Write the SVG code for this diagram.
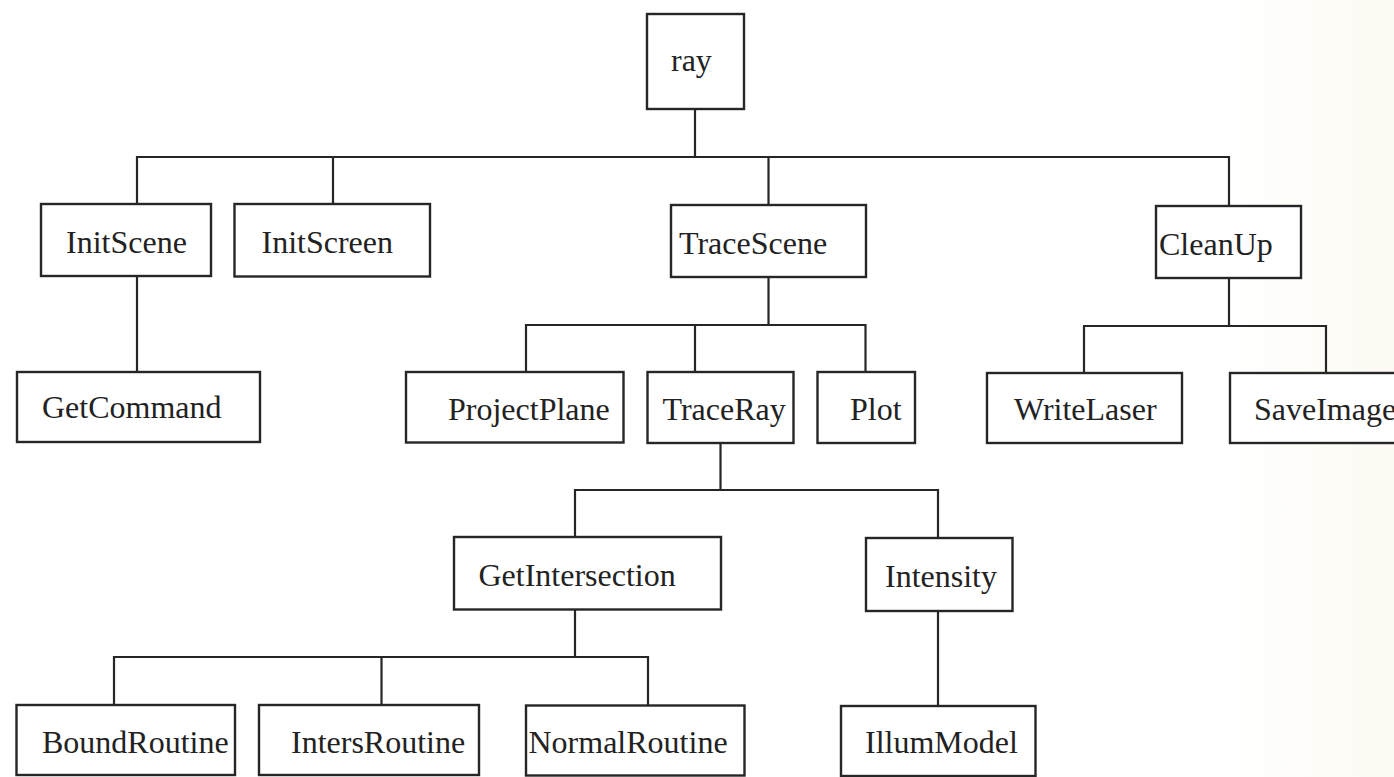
<svg xmlns="http://www.w3.org/2000/svg" width="1394" height="777" viewBox="0 0 1394 777">
  <defs>
    <linearGradient id="paper" x1="0" y1="0" x2="1" y2="0">
      <stop offset="0" stop-color="#ffffff"/>
      <stop offset="0.88" stop-color="#ffffff"/>
      <stop offset="1" stop-color="#fcfaf2"/>
    </linearGradient>
  </defs>
  <style>
    .box { fill: #ffffff; stroke: #262626; stroke-width: 2.4; }
    .lbl { font-family: "Liberation Serif", "Times New Roman", serif; font-size: 32px; fill: #222222; }
    .conn { fill: none; stroke: #262626; stroke-width: 2.2; }
  </style>
  <rect x="0" y="0" width="1394" height="777" fill="url(#paper)"/>

  <g id="connectors" class="conn">
    <!-- ray to level 1 -->
    <path d="M695,109 V157"/>
    <path d="M137,204 V157 H1229 V206"/>
    <path d="M333,157 V204"/>
    <path d="M768.5,157 V205"/>
    <!-- InitScene to GetCommand -->
    <path d="M137,276 V372"/>
    <!-- TraceScene children -->
    <path d="M768.5,277 V325"/>
    <path d="M526,372 V325 H865.5 V372"/>
    <path d="M695,325 V372"/>
    <!-- CleanUp children -->
    <path d="M1229,278 V326"/>
    <path d="M1084,373 V326 H1326 V373"/>
    <!-- TraceRay children -->
    <path d="M720.5,443 V490"/>
    <path d="M575,537 V490 H938 V538"/>
    <!-- GetIntersection children -->
    <path d="M575,609.5 V657"/>
    <path d="M114,705 V657 H648 V705.5"/>
    <path d="M381.5,657 V705"/>
    <!-- Intensity to IllumModel -->
    <path d="M938,611 V706"/>
  </g>

  <g id="ray">
    <rect class="box" x="647" y="14" width="97" height="95"/>
    <text class="lbl" x="671" y="71">ray</text>
  </g>
  <g id="InitScene">
    <rect class="box" x="41" y="204" width="170" height="72"/>
    <text class="lbl" x="66" y="253">InitScene</text>
  </g>
  <g id="InitScreen">
    <rect class="box" x="234.5" y="204" width="195.5" height="72.5"/>
    <text class="lbl" x="261.5" y="253">InitScreen</text>
  </g>
  <g id="TraceScene">
    <rect class="box" x="671" y="205" width="195" height="72"/>
    <text class="lbl" x="679" y="254">TraceScene</text>
  </g>
  <g id="CleanUp">
    <rect class="box" x="1156" y="206" width="145" height="72"/>
    <text class="lbl" x="1159" y="255">CleanUp</text>
  </g>
  <g id="GetCommand">
    <rect class="box" x="17" y="372" width="243" height="70"/>
    <text class="lbl" x="42" y="418">GetCommand</text>
  </g>
  <g id="ProjectPlane">
    <rect class="box" x="406" y="372" width="217.5" height="70.5"/>
    <text class="lbl" x="448" y="419.5">ProjectPlane</text>
  </g>
  <g id="TraceRay">
    <rect class="box" x="647.5" y="372" width="146" height="71"/>
    <text class="lbl" x="662.5" y="420">TraceRay</text>
  </g>
  <g id="Plot">
    <rect class="box" x="817.5" y="372" width="97.5" height="71"/>
    <text class="lbl" x="850" y="420">Plot</text>
  </g>
  <g id="WriteLaser">
    <rect class="box" x="987" y="373" width="195" height="70"/>
    <text class="lbl" x="1014" y="420">WriteLaser</text>
  </g>
  <g id="SaveImage">
    <rect class="box" x="1230" y="373" width="180" height="70"/>
    <text class="lbl" x="1254" y="420">SaveImage</text>
  </g>
  <g id="GetIntersection">
    <rect class="box" x="454" y="537" width="267" height="72.5"/>
    <text class="lbl" x="478.5" y="585.5">GetIntersection</text>
  </g>
  <g id="Intensity">
    <rect class="box" x="866" y="538" width="146.5" height="73"/>
    <text class="lbl" x="885" y="586.5">Intensity</text>
  </g>
  <g id="BoundRoutine">
    <rect class="box" x="16.5" y="705" width="218.5" height="70"/>
    <text class="lbl" x="42" y="752.5">BoundRoutine</text>
  </g>
  <g id="IntersRoutine">
    <rect class="box" x="259" y="705" width="220" height="70"/>
    <text class="lbl" x="291" y="752.5">IntersRoutine</text>
  </g>
  <g id="NormalRoutine">
    <rect class="box" x="526" y="705.5" width="218.5" height="70"/>
    <text class="lbl" x="528.5" y="753">NormalRoutine</text>
  </g>
  <g id="IllumModel">
    <rect class="box" x="841" y="706" width="194.5" height="70"/>
    <text class="lbl" x="865" y="753">IllumModel</text>
  </g>
</svg>
